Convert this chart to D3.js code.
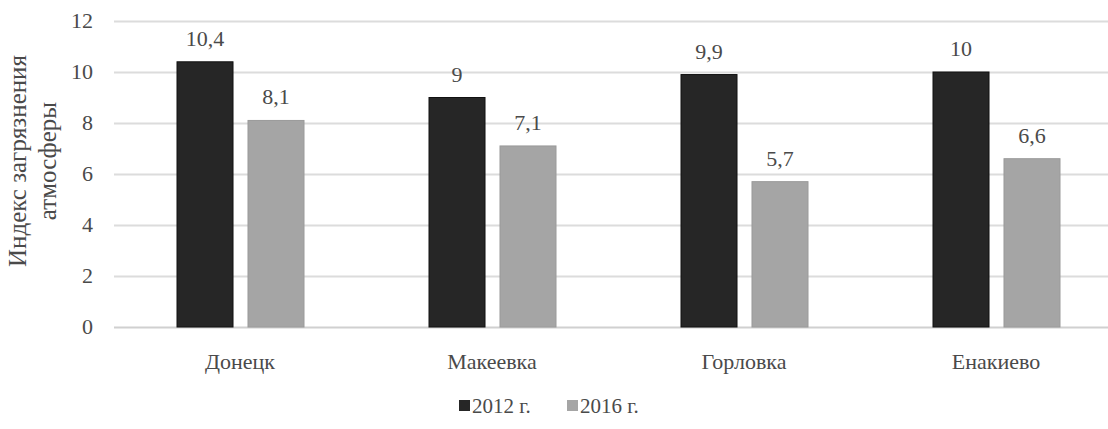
<!DOCTYPE html>
<html><head><meta charset="utf-8">
<script src="https://cdn.jsdelivr.net/npm/d3@7"></script>
<style>body{margin:0;background:#fff;} svg text{font-family:'Liberation Serif','Tinos','Times New Roman','DejaVu Serif',serif;fill:#4a4a4a;}</style>
</head><body>
<svg id="c" width="1108" height="429"></svg>
<script>
const categories = ["Донецк","Макеевка","Горловка","Енакиево"];
const seriesNames = ["2012 г.","2016 г."];
const values2012 = [10.4, 9, 9.9, 10];
const values2016 = [8.1, 7.1, 5.7, 6.6];
const labels2012 = ["10,4","9","9,9","10"];
const labels2016 = ["8,1","7,1","5,7","6,6"];
const yTicks = [0,2,4,6,8,10,12];
const colors = ["#262626","#a5a5a5"];

const FONT = "'Liberation Serif','Tinos','Times New Roman','DejaVu Serif',serif";
const svg = d3.select("#c").attr("font-family",FONT);
const y = d3.scaleLinear().domain([0,12]).range([327,21]);
const x0 = d3.scaleBand().domain(categories).range([114,1122]).padding(0);
const x1 = d3.scaleBand().domain(seriesNames).range([63,190]).paddingInner(0.211).paddingOuter(0);

// gridlines
svg.append("g").selectAll("line").data(yTicks).join("line")
  .attr("x1",114).attr("x2",1108)
  .attr("y1",d=>y(d)+0.5).attr("y2",d=>y(d)+0.5)
  .attr("stroke",d=>d===0?"#d0d0d0":"#dcdcdc").attr("stroke-width",2);

// y tick labels
svg.append("g").selectAll("text").data(yTicks).join("text")
  .attr("x",93).attr("y",d=>y(d)+7).attr("text-anchor","end")
  .attr("font-family",FONT).attr("font-size",22).text(d=>d);

const data = categories.map((c,i)=>({c, vals:[
  {s:seriesNames[0],v:values2012[i],l:labels2012[i],col:colors[0]},
  {s:seriesNames[1],v:values2016[i],l:labels2016[i],col:colors[1]}]}));

const g = svg.append("g").selectAll("g").data(data).join("g")
  .attr("transform",d=>`translate(${x0(d.c)},0)`);
g.selectAll("rect").data(d=>d.vals).join("rect")
  .attr("x",d=>x1(d.s)).attr("width",x1.bandwidth())
  .attr("y",d=>y(d.v)).attr("height",d=>y(0)-y(d.v))
  .attr("fill",d=>d.col)
  .attr("stroke",d=>d.s===seriesNames[0]?"#111":"#9a9a9a").attr("stroke-width",1);
g.selectAll("text.v").data(d=>d.vals).join("text").attr("class","v")
  .attr("x",d=>x1(d.s)+x1.bandwidth()/2).attr("y",d=>y(d.v)-16)
  .attr("text-anchor","middle").attr("font-family",FONT).attr("font-size",22).text(d=>d.l);

// category labels
svg.append("g").selectAll("text").data(categories).join("text")
  .attr("x",d=>x0(d)+x0.bandwidth()/2).attr("y",369)
  .attr("text-anchor","middle").attr("font-family",FONT).attr("font-size",22).text(d=>d);

// y axis title
const t = svg.append("text").attr("transform","translate(26,161) rotate(-90)")
  .attr("text-anchor","middle").attr("font-family",FONT).attr("font-size",25);
t.append("tspan").attr("x",0).attr("dy",0).text("Индекс загрязнения");
t.append("tspan").attr("x",0).attr("dy",30).text("атмосферы");

// legend
const legend = svg.append("g");
const lx = [474, 582];
seriesNames.forEach((s,i)=>{
  legend.append("rect").attr("x",lx[i]-15).attr("y",400).attr("width",11).attr("height",11).attr("fill",colors[i]);
  legend.append("text").attr("x",lx[i]-2).attr("y",413).attr("font-family",FONT).attr("font-size",21).text(s);
});
</script>
</body></html>
